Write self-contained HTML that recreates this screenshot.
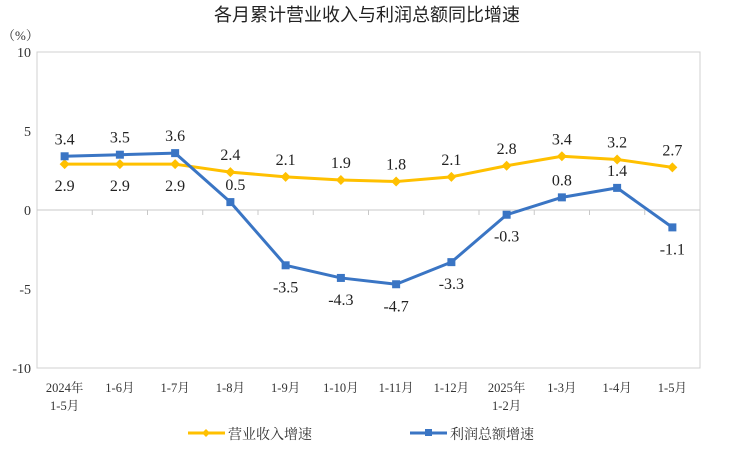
<!DOCTYPE html>
<html><head><meta charset="utf-8"><style>
body{margin:0;background:#fff;}
svg{display:block;font-family:"Liberation Serif","Noto Serif CJK SC",serif;}
</style></head><body>
<svg id="chart" width="734" height="464" viewBox="0 0 734 464" xmlns="http://www.w3.org/2000/svg">
<text x="367" y="21" text-anchor="middle" font-size="18" font-family="Liberation Sans,Noto Sans CJK SC,sans-serif" fill="#222">各月累计营业收入与利润总额同比增速</text>
<text x="2" y="40" font-size="13" fill="#333">（%）</text>
<rect x="37" y="52" width="663" height="316" fill="none" stroke="#d0d0d0"/>
<g id="axes"></g>
<g id="series"></g>
<g font-family="Liberation Serif,Noto Serif CJK SC,serif" font-size="14" fill="#333">
<line x1="188" y1="433" x2="225" y2="433" stroke="#FFC000" stroke-width="3"/>
<path d="M206 429 L210 433 L206 437 L202 433Z" fill="#FFC000"/>
<text x="228" y="439">营业收入增速</text>
<line x1="410" y1="433" x2="447" y2="433" stroke="#3A75C4" stroke-width="3"/>
<rect x="425" y="429" width="7" height="7" fill="#3A75C4"/>
<text x="450" y="439">利润总额增速</text>
</g>
</svg>
<script>
const categories=["2024年|1-5月","1-6月","1-7月","1-8月","1-9月","1-10月","1-11月","1-12月","2025年|1-2月","1-3月","1-4月","1-5月"];
const revenue=[2.9,2.9,2.9,2.4,2.1,1.9,1.8,2.1,2.8,3.4,3.2,2.7];
const profit=[3.4,3.5,3.6,0.5,-3.5,-4.3,-4.7,-3.3,-0.3,0.8,1.4,-1.1];
const yTicks=[10,5,0,-5,-10];
const NS="http://www.w3.org/2000/svg";
const L=37,R=700,T=52,B=368;
const bw=(R-L)/categories.length;
function x(i){return L+bw*(i+0.5);}
function y(v){return T+(10-v)/20*(B-T);}
function mk(tag,attrs,parent){const e=document.createElementNS(NS,tag);for(const k in attrs)e.setAttribute(k,attrs[k]);parent.appendChild(e);return e;}
const axes=document.getElementById('axes'),ser=document.getElementById('series');
yTicks.forEach(v=>{const t=mk('text',{x:31,y:y(v)+5,'text-anchor':'end','font-size':14,fill:'#333'},axes);


t.textContent=v;});
const zl=mk('line',{x1:L,x2:R,y1:y(0),y2:y(0),stroke:'#c8c8c8'},axes);


for(let i=1;i<categories.length;i++){const tk=mk('line',{x1:L+bw*i,x2:L+bw*i,y1:y(0),y2:y(0)+5,stroke:'#c8c8c8'},axes);

}
categories.forEach((c,i)=>{c.split('|').forEach((p,j)=>{const t=mk('text',{x:x(i),y:392+j*18,'text-anchor':'middle','font-size':12.5,fill:'#333'},axes);


t.textContent=p;});});
function series(vals,color,name,marker,labelPos){
 const pts=vals.map((v,i)=>x(i)+','+y(v)).join(' ');
 const pl=mk('polyline',{points:pts,fill:'none',stroke:color,'stroke-width':3,'stroke-linejoin':'round'},ser);
 
 
 vals.forEach((v,i)=>{const cx=x(i),cy=y(v);let m;
  if(marker==='d')m=mk('path',{d:`M${cx} ${cy-5}L${cx+5} ${cy}L${cx} ${cy+5}L${cx-5} ${cy}Z`,fill:color},ser);
  else m=mk('rect',{x:cx-4,y:cy-4,width:8,height:8,fill:color},ser);
  
  
  const pos=labelPos(v,i);
  const t=mk('text',{x:cx+pos[0],y:cy+pos[1],'text-anchor':'middle','font-size':16,fill:'#222'},ser);
  
  
  t.textContent=v;});
}
series(revenue,'#FFC000','revenue','d',(v,i)=>i<3?[0,27]:[0,-12]);
series(profit,'#3A75C4','profit','s',(v,i)=>v<0?[0,27]:(i===3?[5,-12]:[0,-12]));
</script>
</body></html>
